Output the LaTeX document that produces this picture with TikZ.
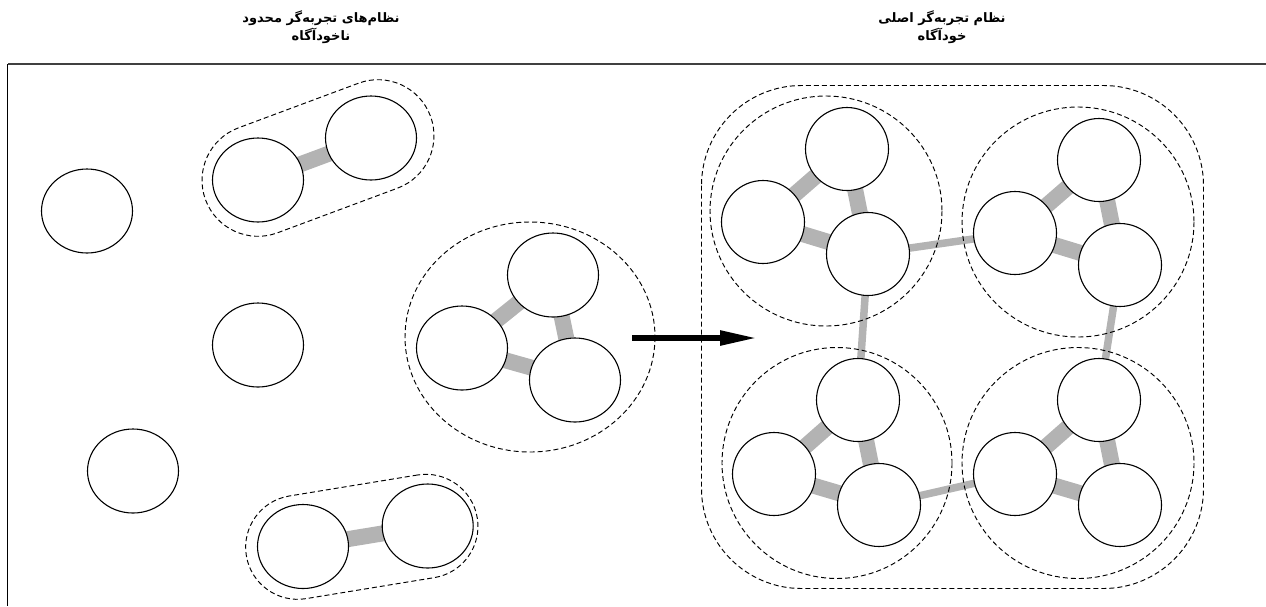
\documentclass[tikz,border=0pt]{standalone}
\usepackage{fontspec}
\usetikzlibrary{shapes.geometric,arrows.meta,backgrounds}
\TeXXeTstate=1
\newfontfamily\arabicfont[Script=Arabic]{DejaVu Sans}
\definecolor{bargray}{HTML}{B3B3B3}
\begin{document}
\begin{tikzpicture}[x=1pt,y=-1pt,
  blob/.style={ellipse, draw, fill=white, line width=1.1pt, minimum width=91pt, minimum height=84pt, inner sep=0pt},
  ball/.style={circle, draw, fill=white, line width=1.1pt, minimum size=83pt, inner sep=0pt},
  bar/.style={line width=16pt, bargray},
  link/.style={line width=7.5pt, bargray},
  grp/.style={draw, dash pattern=on 5pt off 3pt, line width=0.95pt},
  capsule/.style={grp, rectangle, inner sep=0pt},
  arrowst/.style={line width=5.5pt, -{Triangle[length=37pt,width=14pt]}},
  title/.style={font=\arabicfont\bfseries\fontsize{13}{18}\selectfont, align=center, inner sep=0pt}]
\useasboundingbox (0,0) rectangle (1266,606);

% frame
\draw[line width=1.3pt, black!75] (1266,64) -- (7.5,64);
\draw[line width=1.3pt] (7.5,64) -- (7.5,606);

% titles
\node[title] (t1) at (321,27) {\beginR نظام‌های تجربه‌گر محدود\endR\\\beginR ناخودآگاه\endR};
\node[title] (t2) at (942,27) {\beginR نظام تجربه‌گر اصلی\endR\\\beginR خودآگاه\endR};

% lone units
\node[blob] (l1) at (87,211) {};
\node[blob] (l2) at (258,345) {};
\node[blob] (l3) at (133,471) {};

% top pair
\node[blob] (pa1) at (258,180) {};
\node[blob] (pa2) at (371,138) {};
\node[capsule, minimum width=240pt, minimum height=112pt, rounded corners=56pt, rotate=20.4] (capA) at (318,158) {};

% bottom pair
\node[blob] (pb1) at (303,546.5) {};
\node[blob] (pb2) at (427.7,526) {};
\node[capsule, minimum width=234pt, minimum height=104pt, rounded corners=52pt, rotate=9.3] (capB) at (361.8,536.8) {};

% middle triangle
\node[blob] (m1) at (553,275) {};
\node[blob] (m2) at (462,348) {};
\node[blob] (m3) at (575,380) {};
\draw[grp] (530,337) ellipse [x radius=125, y radius=115];

% arrow
\coordinate (arrS) at (632,338);
\coordinate (arrE) at (757,338);
\draw[arrowst] (arrS) -- (arrE);

% big system
\draw[grp, rounded corners=100pt] (701.5,85.5) rectangle (1203.5,588.5);

\node[ball] (a1) at (847,149) {};
\node[ball] (a2) at (763,222) {};
\node[ball] (a3) at (868,254) {};
\draw[grp] (826,211) ellipse [x radius=116, y radius=115];

\node[ball] (b1) at (1099,160) {};
\node[ball] (b2) at (1015,233) {};
\node[ball] (b3) at (1120,265) {};
\draw[grp] (1078,222) ellipse [x radius=116, y radius=115];

\node[ball] (c1) at (858,400) {};
\node[ball] (c2) at (774,474) {};
\node[ball] (c3) at (879,505) {};
\draw[grp] (837,463) ellipse [x radius=115, y radius=115.5];

\node[ball] (d1) at (1099,400) {};
\node[ball] (d2) at (1015,474) {};
\node[ball] (d3) at (1120,505) {};
\draw[grp] (1078,463) ellipse [x radius=116, y radius=115.5];

\begin{pgfonlayer}{background}
  \draw[bar] (pa1.center) -- (pa2.center);
  \draw[bar] (pb1.center) -- (pb2.center);
  \draw[bar] (m1.center) -- (m2.center);
  \draw[bar] (m1.center) -- (m3.center);
  \draw[bar] (m2.center) -- (m3.center);
  \foreach \g in {a,b,c,d}{
    \draw[bar] (\g1.center) -- (\g2.center);
    \draw[bar] (\g1.center) -- (\g3.center);
    \draw[bar] (\g2.center) -- (\g3.center);
  }
  \draw[link] (a3.center) -- (b2.center);
  \draw[link] (a3.center) -- (c1.center);
  \draw[link] (b3.center) -- (d1.center);
  \draw[link] (c3.center) -- (d2.center);
\end{pgfonlayer}
\end{tikzpicture}
\end{document}
